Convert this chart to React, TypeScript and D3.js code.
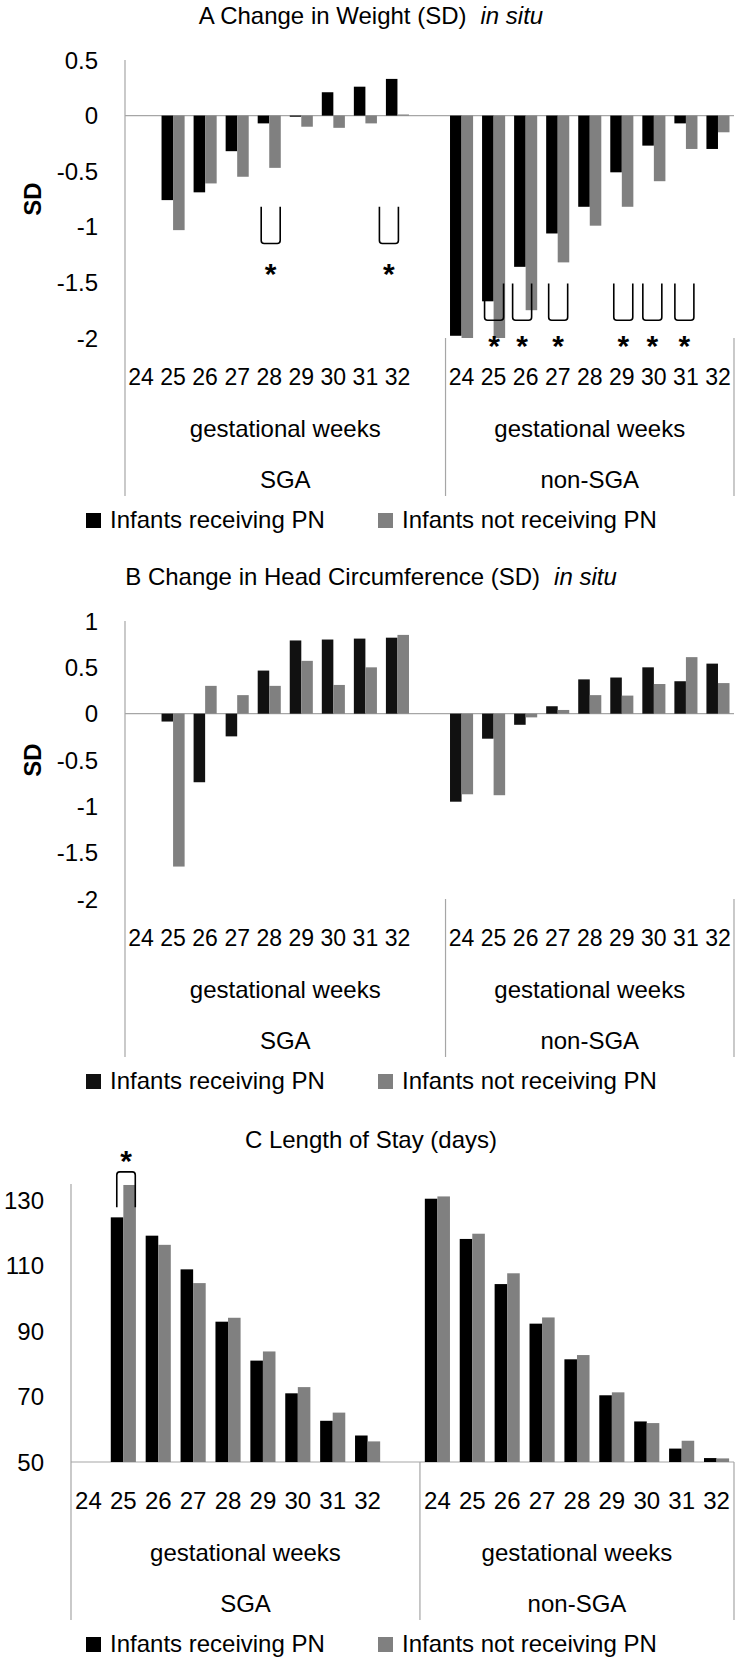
import React, { useRef, useEffect } from "react";
import * as d3 from "d3";

// category labels
const weeks = ["24", "25", "26", "27", "28", "29", "30", "31", "32"];
const groups = ["SGA", "non-SGA"];
const seriesNames = ["Infants receiving PN", "Infants not receiving PN"];
const axisTitle = "gestational weeks";

// A: change in weight (SD), SGA has no 24-week infants
const weightSgaPN = [null, -0.76, -0.69, -0.32, -0.07, -0.01, 0.21, 0.26, 0.33];
const weightSgaNoPN = [null, -1.03, -0.61, -0.55, -0.47, -0.1, -0.11, -0.07, 0.01];
const weightNonSgaPN = [-1.98, -1.67, -1.36, -1.06, -0.82, -0.51, -0.27, -0.07, -0.3];
const weightNonSgaNoPN = [-2.0, -2.0, -1.75, -1.32, -0.99, -0.82, -0.59, -0.3, -0.15];
const weightTicks = [0.5, 0, -0.5, -1, -1.5, -2];

// B: change in head circumference (SD)
const headSgaPN = [null, -0.085, -0.74, -0.245, 0.465, 0.79, 0.8, 0.81, 0.82];
const headSgaNoPN = [null, -1.65, 0.3, 0.2, 0.3, 0.57, 0.31, 0.5, 0.85];
const headNonSgaPN = [-0.95, -0.27, -0.12, 0.08, 0.37, 0.39, 0.5, 0.35, 0.54];
const headNonSgaNoPN = [-0.87, -0.88, -0.04, 0.04, 0.2, 0.195, 0.32, 0.61, 0.33];
const headTicks = [1, 0.5, 0, -0.5, -1, -1.5, -2];

// C: length of stay (days)
const staySgaPN = [null, 124.8, 119.2, 108.9, 92.9, 81.0, 71.0, 62.6, 58.1];
const staySgaNoPN = [null, 134.7, 116.4, 104.7, 94.1, 83.8, 72.9, 65.1, 56.3];
const stayNonSgaPN = [130.5, 118.2, 104.4, 92.3, 81.4, 70.4, 62.4, 54.1, 51.2];
const stayNonSgaNoPN = [131.2, 119.8, 107.7, 94.2, 82.7, 71.3, 61.9, 56.5, 51.1];
const stayTicks = [50, 70, 90, 110, 130];

// significant differences (group, week)
const weightSignif = [
  ["SGA", "28"], ["SGA", "32"],
  ["non-SGA", "25"], ["non-SGA", "26"], ["non-SGA", "27"],
  ["non-SGA", "29"], ["non-SGA", "30"], ["non-SGA", "31"],
];
const staySignif = [["SGA", "25"]];

// hand placement of the brackets in the original figure
const bracketNudge: Record<string, number> = {
  "SGA-28": 1, "SGA-32": -9, "non-SGA-26": -4, "non-SGA-29": 1,
  "non-SGA-30": -2, "non-SGA-31": -2,
};

const FONT = "'Liberation Sans', Arial, sans-serif";
const GRAY = "#808080";
const LINE = "#a6a6a6";
const RIGHT = 734;

interface Panel {
  offset: number;
  letter: string;
  title: string;
  italic?: string;
  domain: [number, number];
  base: number;
  ticks: number[];
  left: number;
  black: string;
  values: (number | null)[][][];
  yLabel?: string;
  digitSize: number;
  signif: string[][];
  bracketDown: boolean;
}

const panels: Panel[] = [
  {
    offset: 0, letter: "A", title: "Change in Weight (SD)", italic: "in situ",
    domain: [-2, 0.5], base: 0, ticks: weightTicks, left: 125, black: "#000",
    values: [[weightSgaPN, weightSgaNoPN], [weightNonSgaPN, weightNonSgaNoPN]],
    yLabel: "SD", digitSize: 23, signif: weightSignif, bracketDown: true,
  },
  {
    offset: 561, letter: "B", title: "Change in Head Circumference (SD)", italic: "in situ",
    domain: [-2, 1], base: 0, ticks: headTicks, left: 125, black: "#111",
    values: [[headSgaPN, headSgaNoPN], [headNonSgaPN, headNonSgaNoPN]],
    yLabel: "SD", digitSize: 23, signif: [], bracketDown: true,
  },
  {
    offset: 1124, letter: "C", title: "Length of Stay (days)",
    domain: [50, 135], base: 50, ticks: stayTicks, left: 71, black: "#000",
    values: [[staySgaPN, staySgaNoPN], [stayNonSgaPN, stayNonSgaNoPN]],
    digitSize: 24, signif: staySignif, bracketDown: false,
  },
];

function drawPanel(svg: d3.Selection<SVGSVGElement, unknown, null, undefined>, p: Panel) {
  const g = svg.append("g").attr("transform", `translate(0,${p.offset})`);
  const top = 60, bottom = 338, lineEnd = 496;

  const keys = [
    ...weeks.map(w => `SGA-${w}`),
    "gap",
    ...weeks.map(w => `non-SGA-${w}`),
  ];
  const x = d3.scaleBand().domain(keys).range([p.left, RIGHT]);
  const bw = x.bandwidth();
  const barW = bw * 0.36;
  const inset = (bw - 2 * barW) / 2;
  const y = d3.scaleLinear().domain(p.domain).range([bottom, top]);

  // title
  const t = g.append("text")
    .attr("x", 371).attr("y", 24)
    .attr("text-anchor", "middle")
    .attr("font-size", 24)
    .text(`${p.letter} ${p.title}`);
  if (p.italic) {
    t.append("tspan").attr("dx", 14).attr("font-style", "italic").text(p.italic);
  }

  // category axis line (at zero or at the minimum)
  g.append("line")
    .attr("x1", p.left).attr("x2", RIGHT)
    .attr("y1", y(p.base)).attr("y2", y(p.base))
    .attr("stroke", LINE).attr("stroke-width", 1.2);

  // bars
  groups.forEach((grp, gi) => {
    weeks.forEach((w, wi) => {
      p.values[gi].forEach((series, si) => {
        const v = series[wi];
        if (v === null || v === undefined) return;
        const x0 = (x(`${grp}-${w}`) as number) + inset + si * barW;
        g.append("rect")
          .attr("x", x0)
          .attr("y", Math.min(y(v), y(p.base)))
          .attr("width", barW)
          .attr("height", Math.abs(y(v) - y(p.base)))
          .attr("fill", si === 0 ? p.black : GRAY);
      });
    });
  });

  // value axis line and group separators
  g.append("line")
    .attr("x1", p.left).attr("x2", p.left)
    .attr("y1", top).attr("y2", lineEnd)
    .attr("stroke", LINE).attr("stroke-width", 1.2);
  const split = x("non-SGA-24") as number;
  [split, RIGHT].forEach(sx => {
    g.append("line")
      .attr("x1", sx).attr("x2", sx)
      .attr("y1", bottom).attr("y2", lineEnd)
      .attr("stroke", LINE).attr("stroke-width", 1.2);
  });

  // y tick labels
  g.selectAll(".ytick")
    .data(p.ticks)
    .enter()
    .append("text")
    .attr("x", p.left - 27)
    .attr("y", d => y(d))
    .attr("dy", "0.36em")
    .attr("text-anchor", "end")
    .attr("font-size", 24)
    .text(d => String(d));

  if (p.yLabel) {
    g.append("text")
      .attr("transform", `translate(41,${(top + bottom) / 2}) rotate(-90)`)
      .attr("text-anchor", "middle")
      .attr("font-size", 24)
      .attr("font-weight", "bold")
      .text(p.yLabel);
  }

  // category labels
  groups.forEach(grp => {
    weeks.forEach(w => {
      g.append("text")
        .attr("x", (x(`${grp}-${w}`) as number) + bw / 2)
        .attr("y", 385)
        .attr("text-anchor", "middle")
        .attr("font-size", p.digitSize)
        .text(w);
    });
  });
  const spans = [[p.left, split], [split, RIGHT]];
  groups.forEach((grp, gi) => {
    const cx = (spans[gi][0] + spans[gi][1]) / 2;
    g.append("text")
      .attr("x", cx).attr("y", 437)
      .attr("text-anchor", "middle").attr("font-size", 24)
      .text(axisTitle);
    g.append("text")
      .attr("x", cx).attr("y", 488)
      .attr("text-anchor", "middle").attr("font-size", 24)
      .text(grp);
  });

  // significance brackets
  p.signif.forEach(([grp, w]) => {
    const key = `${grp}-${w}`;
    const bx = (x(key) as number) + inset;
    const path = d3.path();
    let starY: number;
    let bx0: number, bx1: number;
    if (p.bracketDown) {
      bx0 = bx + 2.5 + (bracketNudge[key] || 0);
      bx1 = bx0 + 19;
      const lowRow = grp === "non-SGA";
      const yt = y(lowRow ? -1.51 : -0.82);
      const yb = y(lowRow ? -1.84 : -1.15);
      const r = 3;
      path.moveTo(bx0, yt);
      path.lineTo(bx0, yb - r);
      path.quadraticCurveTo(bx0, yb, bx0 + r, yb);
      path.lineTo(bx1 - r, yb);
      path.quadraticCurveTo(bx1, yb, bx1, yb - r);
      path.lineTo(bx1, yt);
      starY = y(lowRow ? -2.01 : -1.36);
    } else {
      bx0 = bx + 6;
      bx1 = bx + 24.5;
      const yt = y(138.7);
      const yb = y(127.9);
      const r = 3;
      path.moveTo(bx0, yb);
      path.lineTo(bx0, yt + r);
      path.quadraticCurveTo(bx0, yt, bx0 + r, yt);
      path.lineTo(bx1 - r, yt);
      path.quadraticCurveTo(bx1, yt, bx1, yt + r);
      path.lineTo(bx1, yb);
      starY = y(144.2);
    }
    g.append("path")
      .attr("d", path.toString())
      .attr("fill", "none")
      .attr("stroke", "#000")
      .attr("stroke-width", 1.6);
    g.append("text")
      .attr("x", (bx0 + bx1) / 2)
      .attr("y", starY + 17)
      .attr("text-anchor", "middle")
      .attr("font-size", 30)
      .attr("font-weight", "bold")
      .text("*");
  });

  // legend
  const legendX = [86, 378];
  seriesNames.forEach((name, si) => {
    g.append("rect")
      .attr("x", legendX[si]).attr("y", 513)
      .attr("width", 15).attr("height", 15)
      .attr("fill", si === 0 ? p.black : GRAY);
    g.append("text")
      .attr("x", legendX[si] + 24).attr("y", 528)
      .attr("font-size", 24)
      .text(name);
  });
}

export default function App() {
  const svgRef = useRef<SVGSVGElement | null>(null);

  useEffect(() => {
    document.body.style.margin = "0";
    const svg = d3.select(svgRef.current as SVGSVGElement);
    svg.selectAll("*").remove();
    panels.forEach(p => drawPanel(svg, p));
  }, []);

  return (
    <svg
      ref={svgRef}
      width={741}
      height={1664}
      style={{ display: "block", background: "#fff", fontFamily: FONT }}
    />
  );
}
